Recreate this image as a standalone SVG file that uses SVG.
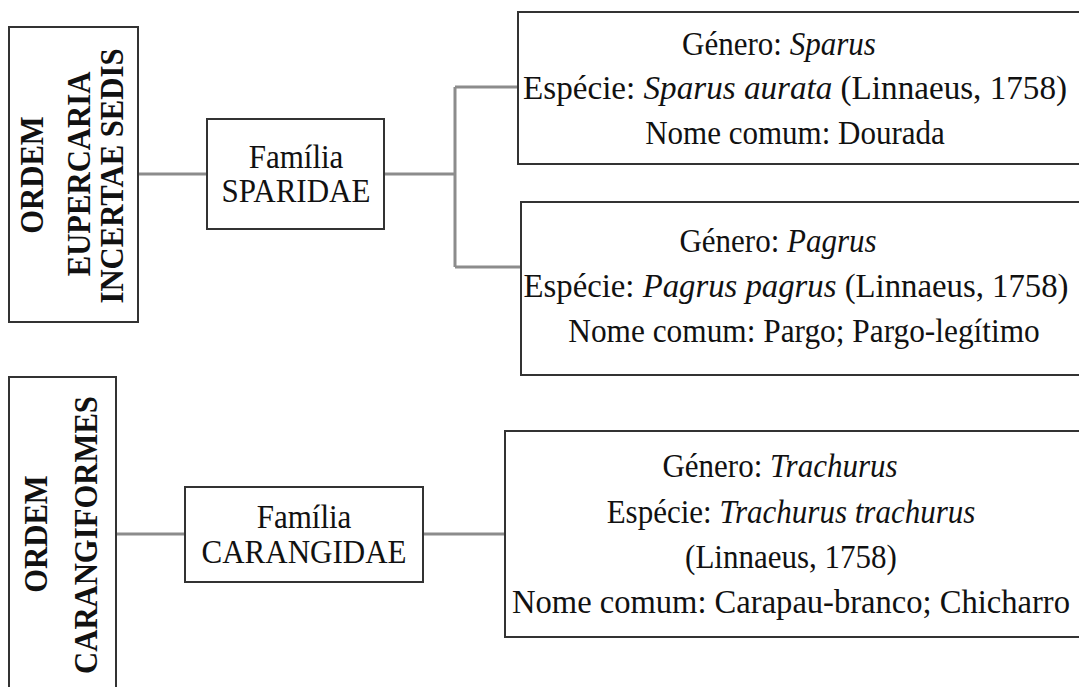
<svg xmlns="http://www.w3.org/2000/svg" width="1079" height="687" viewBox="0 0 1079 687">
<style>
.box{fill:#fff;stroke:#333;stroke-width:2}
.con{fill:none;stroke:#8c8c8c;stroke-width:3}
.t{font-family:"Liberation Serif","Times New Roman",serif;font-size:33px;fill:#111;text-anchor:middle}
.b{font-weight:bold;font-size:33px}
.i{font-style:italic}
</style>
<rect width="1079" height="687" fill="#fff"/>
<g id="connectors">
<path class="con" d="M138,174H207"/>
<path class="con" d="M384,174H455M455,87V267M455,87H519M455,267H521"/>
<path class="con" d="M116,534H185"/>
<path class="con" d="M423,534H505"/>
</g>
<g id="ordem1">
<rect class="box" x="9" y="27" width="129" height="295"/>
<text class="t b" transform="translate(43,175) rotate(-90) scale(0.93,1)">ORDEM</text>
<text class="t b" transform="translate(90,174) rotate(-90) scale(0.93,1)">EUPERCARIA</text>
<text class="t b" transform="translate(123,176) rotate(-90) scale(0.93,1)">INCERTAE  SEDIS</text>
</g>
<g id="familia1">
<rect class="box" x="207" y="119" width="177" height="110"/>
<text class="t" transform="translate(296,168) scale(0.94,1)">Família</text>
<text class="t" transform="translate(296,202) scale(0.94,1)">SPARIDAE</text>
</g>
<g id="sparus">
<rect class="box" x="518" y="12" width="600" height="152"/>
<text class="t" transform="translate(779,55) scale(0.94,1)">Género: <tspan class="i">Sparus</tspan></text>
<text class="t" x="795" y="99" textLength="544" lengthAdjust="spacingAndGlyphs">Espécie: <tspan class="i">Sparus aurata</tspan> (Linnaeus, 1758)</text>
<text class="t" transform="translate(795,144) scale(0.94,1)">Nome comum: Dourada</text>
</g>
<g id="pagrus">
<rect class="box" x="521" y="202" width="600" height="173"/>
<text class="t" transform="translate(778,252) scale(0.94,1)">Género: <tspan class="i">Pagrus</tspan></text>
<text class="t" x="796" y="297" textLength="545" lengthAdjust="spacingAndGlyphs">Espécie: <tspan class="i">Pagrus pagrus</tspan> (Linnaeus, 1758)</text>
<text class="t" transform="translate(804,342) scale(0.95,1)">Nome comum: Pargo; Pargo-legítimo</text>
</g>
<g id="ordem2">
<rect class="box" x="9" y="377" width="107" height="330"/>
<text class="t b" transform="translate(47,534) rotate(-90) scale(0.93,1)">ORDEM</text>
<text class="t b" transform="translate(97,535) rotate(-90) scale(0.93,1)">CARANGIFORMES</text>
</g>
<g id="familia2">
<rect class="box" x="185" y="487" width="238" height="95"/>
<text class="t" transform="translate(304,528) scale(0.94,1)">Família</text>
<text class="t" transform="translate(304,563) scale(0.94,1)">CARANGIDAE</text>
</g>
<g id="trachurus">
<rect class="box" x="505" y="431" width="600" height="206"/>
<text class="t" transform="translate(780,477) scale(0.94,1)">Género: <tspan class="i">Trachurus</tspan></text>
<text class="t" transform="translate(791,523) scale(0.94,1)">Espécie: <tspan class="i">Trachurus trachurus</tspan></text>
<text class="t" transform="translate(791,568) scale(0.94,1)">(Linnaeus, 1758)</text>
<text class="t" x="791" y="613" textLength="558" lengthAdjust="spacingAndGlyphs">Nome comum: Carapau-branco; Chicharro</text>
</g>
</svg>
